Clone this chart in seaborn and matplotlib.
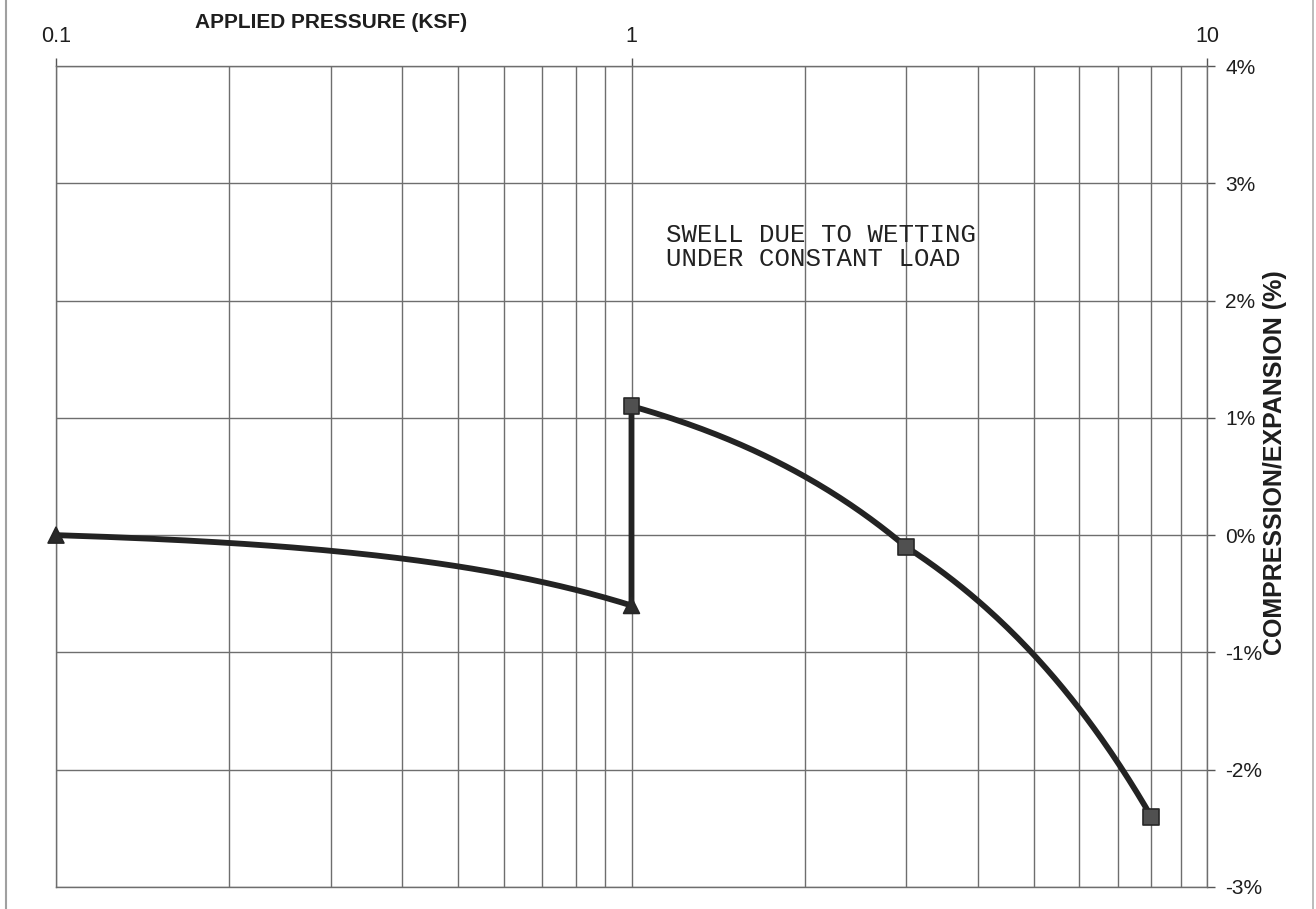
import numpy as np
import pandas as pd
import matplotlib.pyplot as plt
import seaborn as sns
from matplotlib.path import Path
from matplotlib.lines import Line2D
from matplotlib.ticker import FixedLocator, FixedFormatter, LogLocator, NullFormatter

# measured points (pressure in ksf, strain in %)
pressure = [0.1, 1.0, 1.0, 3.0, 8.0]
strain = [0.0, -0.6, 1.1, -0.1, -2.4]
stage = ["dry", "dry", "wet", "wet", "wet"]

x_ticks = [0.1, 1, 10]
x_tick_labels = ["0.1", "1", "10"]
y_ticks = [-3, -2, -1, 0, 1, 2, 3, 4]
y_tick_labels = ["-3%", "-2%", "-1%", "0%", "1%", "2%", "3%", "4%"]

note = "SWELL DUE TO WETTING\nUNDER CONSTANT LOAD"

sns.set_theme(style="white")
plt.rcParams['font.family'] = ['Liberation Sans', 'DejaVu Sans']

df = pd.DataFrame({'pressure': pressure, 'strain': strain, 'stage': stage})

fig, ax = plt.subplots(figsize=(13.16, 9.09), dpi=100)
fig.subplots_adjust(left=56/1316, right=1207/1316, top=1-66/909, bottom=1-887/909)

ax.set_xscale('log')
ax.set_xlim(0.1, 10)
ax.set_ylim(-3, 4)

# the original joins the points with straight segments in linear pressure,
# so they bend on the log axis: let matplotlib's Path split each segment
path = Path(np.column_stack([df['pressure'], df['strain']])).interpolated(80)
ax.plot(path.vertices[:, 0], path.vertices[:, 1], color='#232323', lw=4.2,
        solid_capstyle='round', solid_joinstyle='round', zorder=3, clip_on=False)

sns.scatterplot(data=df, x='pressure', y='strain', hue='stage', style='stage',
                markers={'dry': '^', 'wet': 's'},
                palette={'dry': '#2a2a2a', 'wet': '#505050'},
                s=130, edgecolor='#262626', linewidth=1.2, legend=False,
                zorder=4, clip_on=False, ax=ax)

# grid
ax.xaxis.set_major_locator(FixedLocator(x_ticks))
ax.xaxis.set_major_formatter(FixedFormatter(x_tick_labels))
ax.xaxis.set_minor_locator(LogLocator(base=10, subs=np.arange(2, 10)))
ax.xaxis.set_minor_formatter(NullFormatter())
ax.yaxis.set_major_locator(FixedLocator(y_ticks))
ax.yaxis.set_major_formatter(FixedFormatter(y_tick_labels))
ax.grid(True, which='both', axis='x', color='#6e6e6e', lw=1.0)
ax.grid(True, which='major', axis='y', color='#6e6e6e', lw=1.0)
ax.set_axisbelow(True)

ax.xaxis.tick_top()
ax.yaxis.tick_right()
ax.tick_params(axis='x', which='major', length=6, width=1, color='#555555',
               labelsize=15.5, labelcolor='#1e1e1e', pad=8)
ax.tick_params(axis='x', which='minor', length=0)
ax.tick_params(axis='y', which='major', length=6, width=1, color='#555555',
               labelsize=15, labelcolor='#1e1e1e', pad=7)
for sp in ax.spines.values():
    sp.set_color('#6e6e6e')
    sp.set_linewidth(1.0)

ax.set_xlabel('')
ax.set_ylabel('')

fig.text(331/1316, 1-23/909, 'APPLIED PRESSURE (KSF)', ha='center', va='center',
         fontsize=15, fontweight='bold', color='#1e1e1e')
fig.text(1275/1316, 1-463/909, 'COMPRESSION/EXPANSION (%)', ha='center', va='center',
         rotation=90, fontsize=18, fontweight='bold', color='#1e1e1e')

ax.text(1.146, 2.66, note, family=['Liberation Mono', 'DejaVu Sans Mono'],
        fontsize=18.5, color='#222222', ha='left', va='top', linespacing=1.0)

# page edges of the scanned sheet
fig.add_artist(Line2D([6/1316, 6/1316], [0, 1], transform=fig.transFigure,
                      color='#a0a0a0', lw=1.5))
fig.add_artist(Line2D([1313/1316, 1313/1316], [0, 1], transform=fig.transFigure,
                      color='#b0b0b0', lw=1.2))

plt.savefig('out.png', dpi=100)
